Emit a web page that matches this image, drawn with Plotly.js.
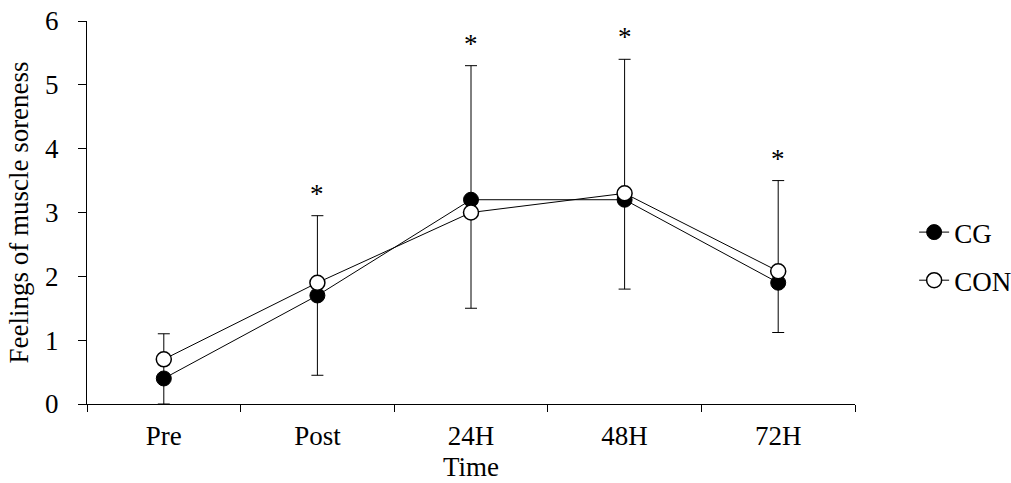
<!DOCTYPE html>
<html>
<head>
<meta charset="utf-8">
<script src="https://cdn.plot.ly/plotly-3.0.1.min.js"></script>
<style>html,body{margin:0;padding:0;background:#fff;}#chart{width:1011px;height:483px;}</style>
</head>
<body>
<div id="chart"></div>
<script>
const categories = ['Pre', 'Post', '24H', '48H', '72H'];
const cgValues = [0.4, 1.7, 3.2, 3.2, 1.9];
const conValues = [0.7, 1.9, 3.0, 3.3, 2.08];
const errorTop = [1.1, 2.95, 5.3, 5.4, 3.5];
const errorBottom = [0, 0.45, 1.5, 1.8, 1.12];
const significance = ['', '*', '*', '*', '*'];
const yTicks = [0, 1, 2, 3, 4, 5, 6];

const FONT = 'Liberation Serif, Times New Roman, serif';
const FS = 27;

const traceCG = {
  x: categories, y: cgValues, name: 'CG', type: 'scatter', mode: 'lines+markers',
  legendgroup: 'a',
  line: {color: '#000', width: 1},
  marker: {symbol: 'circle', size: 15, color: '#000', line: {color: '#000', width: 1}},
  error_y: {
    type: 'data', symmetric: false,
    array: errorTop.map((t, i) => t - cgValues[i]),
    arrayminus: cgValues.map((v, i) => v - errorBottom[i]),
    color: '#000', thickness: 1, width: 6
  },
  cliponaxis: false
};
const traceCON = {
  x: categories, y: conValues, name: 'CON', type: 'scatter', mode: 'lines+markers',
  legendgroup: 'b',
  line: {color: '#000', width: 1},
  marker: {symbol: 'circle', size: 15, color: '#fff', line: {color: '#000', width: 1.5}},
  cliponaxis: false
};

const annotations = categories.map((c, i) => ({
  x: c, y: errorTop[i], xref: 'x', yref: 'y', text: significance[i],
  showarrow: false, yanchor: 'bottom', yshift: 5,
  font: {family: FONT, size: FS, color: '#000'}
})).filter(a => a.text);

const layout = {
  width: 1011, height: 483,
  margin: {l: 87, r: 156, t: 21, b: 79, autoexpand: false},
  paper_bgcolor: '#fff', plot_bgcolor: '#fff',
  font: {family: FONT, size: FS, color: '#000'},
  showlegend: true,
  legend: {
    x: 1.077, xanchor: 'left', y: 0.385, yanchor: 'middle',
    font: {family: FONT, size: FS, color: '#000'},
    traceorder: 'grouped', tracegroupgap: 10, bgcolor: 'rgba(0,0,0,0)'
  },
  xaxis: {
    type: 'category', range: [-0.5, 4.5], automargin: false,
    tickson: 'boundaries', ticks: 'outside', ticklen: 7, tickwidth: 1, tickcolor: '#000',
    showline: true, linecolor: '#000', linewidth: 1, showgrid: false, zeroline: false,
    tickfont: {family: FONT, size: FS, color: '#000'},
    ticklabelstandoff: 8,
    title: {text: 'Time', font: {family: FONT, size: FS, color: '#000'}, standoff: 6}
  },
  yaxis: {
    range: [0, 6], tickvals: yTicks, ticktext: yTicks.map(String), automargin: false,
    ticks: 'outside', ticklen: 8, tickwidth: 1, tickcolor: '#000',
    showline: true, linecolor: '#000', linewidth: 1, showgrid: false, zeroline: false,
    tickfont: {family: FONT, size: FS, color: '#000'},
    ticklabelstandoff: 14,
    title: {text: 'Feelings of muscle soreness', font: {family: FONT, size: FS, color: '#000'}, standoff: 8}
  },
  annotations: annotations
};

Plotly.newPlot('chart', [traceCG, traceCON], layout, {displayModeBar: false, staticPlot: true});
</script>
</body>
</html>
